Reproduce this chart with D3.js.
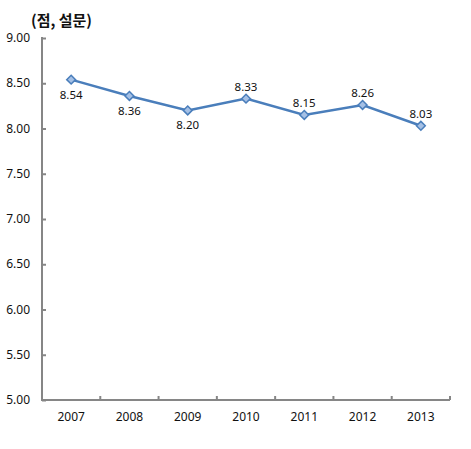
<!DOCTYPE html>
<html><head><meta charset="utf-8">
<script src="https://cdn.jsdelivr.net/npm/d3@7"></script>
<style>body{margin:0;background:#fff}svg{display:block}</style>
</head><body>
<script>
const years = ["2007","2008","2009","2010","2011","2012","2013"];
const values = [8.54, 8.36, 8.20, 8.33, 8.15, 8.26, 8.03];
const labelPos = ["below","below","below","above","above","above","above"];
const yTicks = [5.00, 5.50, 6.00, 6.50, 7.00, 7.50, 8.00, 8.50, 9.00];
const unitLabel = "(점, 설문)";

const W = 471, H = 449;
const svg = d3.select("body").append("svg").attr("width", W).attr("height", H);
const x = d3.scaleBand().domain(years).range([42, 450]);
const y = d3.scaleLinear().domain([5, 9]).range([400, 38]);
const axisColor = "#868686";
const font = "'Noto Sans', 'Noto Sans CJK KR', sans-serif";

svg.append("text").attr("x", 31).attr("y", 26).text(unitLabel)
  .attr("font-family", "'Noto Sans CJK KR', sans-serif").attr("font-weight", "bold")
  .attr("font-size", 15).attr("fill", "#111");

// y axis
const ya = svg.append("g").attr("transform", "translate(42,0)")
  .call(d3.axisRight(y).tickValues(yTicks).tickSize(4).tickFormat(() => ""));
ya.select(".domain").attr("stroke", axisColor).attr("stroke-width", 2).attr("d", `M0,${y(9)-1}V${y(5)}`);
ya.selectAll(".tick line").attr("stroke", axisColor).attr("stroke-width", 2);
svg.selectAll(".ylab").data(yTicks).enter().append("text")
  .attr("x", 30).attr("y", d => y(d)).attr("dy", "0.35em").attr("text-anchor", "end")
  .attr("font-family", font).attr("font-size", 12).attr("fill", "#111")
  .text(d => d.toFixed(2));

// x axis
const xa = svg.append("g").attr("transform", `translate(0,${y(5)})`)
  .call(d3.axisTop(x).tickSize(0).tickFormat(() => ""));
xa.select(".domain").attr("stroke", axisColor).attr("stroke-width", 2).attr("d", `M41,0H${x.range()[1]}`);
xa.selectAll(".tick line").remove();
const bounds = years.map(d => x(d)).concat([x.range()[1]]).slice(1);
svg.selectAll(".xt").data(bounds).enter().append("line")
  .attr("x1", d => d).attr("x2", d => d).attr("y1", y(5)).attr("y2", y(5) - 4)
  .attr("stroke", axisColor).attr("stroke-width", 2);
svg.selectAll(".xlab").data(years).enter().append("text")
  .attr("x", d => x(d) + x.bandwidth() / 2).attr("y", 421).attr("text-anchor", "middle")
  .attr("font-family", font).attr("font-size", 12).attr("fill", "#111").text(d => d);

// line
const cx = (d, i) => x(years[i]) + x.bandwidth() / 2;
const line = d3.line().x((d, i) => cx(d, i)).y(d => y(d));
svg.append("path").datum(values).attr("d", line).attr("fill", "none")
  .attr("stroke", "#4a7ebb").attr("stroke-width", 2.5);
svg.selectAll(".pt").data(values).enter().append("path")
  .attr("d", d3.symbol(d3.symbolDiamond2, 50)())
  .attr("transform", (d, i) => `translate(${cx(d, i)},${y(d)})`)
  .attr("fill", "#a5c0e5").attr("stroke", "#4a7ebb").attr("stroke-width", 1.5);
svg.selectAll(".vl").data(values).enter().append("text")
  .attr("x", (d, i) => cx(d, i))
  .attr("y", (d, i) => labelPos[i] === "below" ? y(d) + 19 : y(d) - 8)
  .attr("text-anchor", "middle").attr("font-family", font).attr("font-size", 11.5)
  .attr("fill", "#111").text(d => d.toFixed(2));
</script>
</body></html>
